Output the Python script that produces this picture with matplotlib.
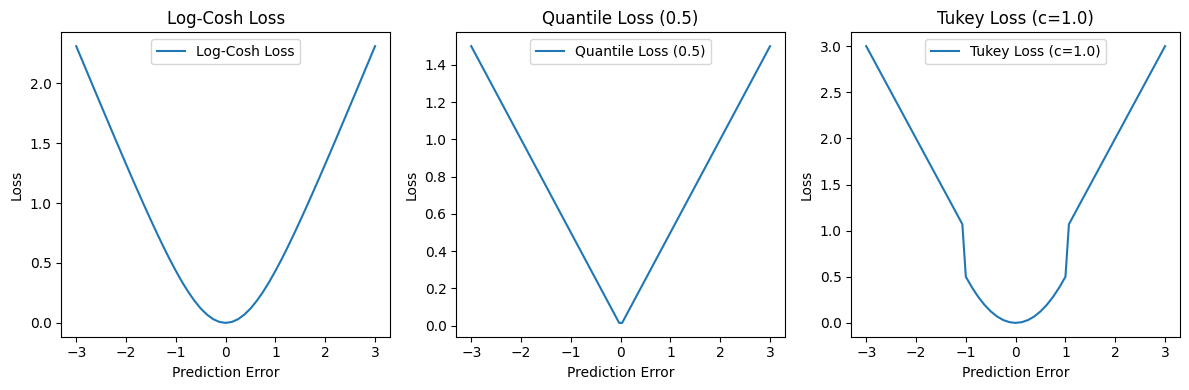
import matplotlib.pyplot as plt
import numpy as np

# values
err_logcosh = [-3.0, -2.875, -2.75, -2.625, -2.5, -2.375, -2.25, -2.125, -2.0, -1.875, -1.75, -1.625,
               -1.5, -1.375, -1.25, -1.125, -1.0, -0.875, -0.75, -0.625, -0.5, -0.375, -0.25, -0.125,
               0.0,
               0.125, 0.25, 0.375, 0.5, 0.625, 0.75, 0.875, 1.0, 1.125, 1.25, 1.375, 1.5,
               1.625, 1.75, 1.875, 2.0, 2.125, 2.25, 2.375, 2.5, 2.625, 2.75, 2.875, 3.0]
loss_logcosh = [2.309, 2.185, 2.061, 1.937, 1.814, 1.691, 1.568, 1.446, 1.325, 1.205, 1.087, 0.970,
                0.856, 0.744, 0.636, 0.532, 0.434, 0.342, 0.258, 0.184, 0.120, 0.069, 0.031, 0.008,
                0.0,
                0.008, 0.031, 0.069, 0.120, 0.184, 0.258, 0.342, 0.434, 0.532, 0.636, 0.744, 0.856,
                0.970, 1.087, 1.205, 1.325, 1.446, 1.568, 1.691, 1.814, 1.937, 2.061, 2.185, 2.309]

err_quantile = [-3.0, -0.03, 0.03, 3.0]
loss_quantile = [1.5, 0.015, 0.015, 1.5]

err_tukey = [-3.0, -2.0, -1.07, -1.0, -0.875, -0.75, -0.625, -0.5, -0.375, -0.25, -0.125, 0.0,
             0.125, 0.25, 0.375, 0.5, 0.625, 0.75, 0.875, 1.0, 1.07, 2.0, 3.0]
loss_tukey = [3.0, 2.0, 1.07, 0.5, 0.383, 0.281, 0.195, 0.125, 0.070, 0.031, 0.008, 0.0,
              0.008, 0.031, 0.070, 0.125, 0.195, 0.281, 0.383, 0.5, 1.07, 2.0, 3.0]

fig, axes = plt.subplots(1, 3, figsize=(12, 4), dpi=100)

panels = [
    (err_logcosh, loss_logcosh, 'Log-Cosh Loss'),
    (err_quantile, loss_quantile, 'Quantile Loss (0.5)'),
    (err_tukey, loss_tukey, 'Tukey Loss (c=1.0)'),
]

for ax, (x, y, name) in zip(axes, panels):
    ax.plot(x, y, label=name)
    ax.set_title(name)
    ax.set_xlabel('Prediction Error')
    ax.set_ylabel('Loss')
    ax.legend(loc='upper center')

plt.tight_layout()
plt.savefig('out.png', bbox_inches='tight')
